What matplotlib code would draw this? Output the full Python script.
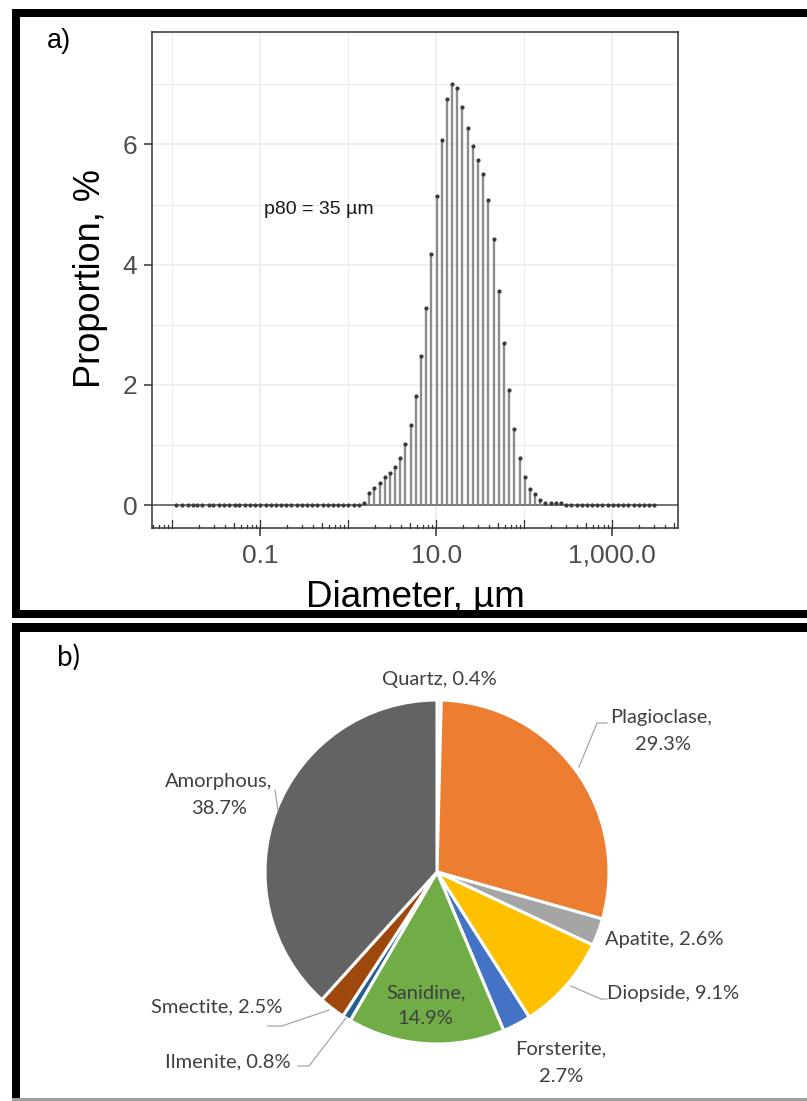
import matplotlib
matplotlib.use("Agg")
import matplotlib.pyplot as plt
from matplotlib.patches import Rectangle
from matplotlib.ticker import NullLocator
import matplotlib.transforms as mtransforms

# ---------------- data ----------------
# particle size classes (µm) of the laser diffraction analyser
diameter_um = [
    0.011, 0.013, 0.015, 0.017, 0.019, 0.022, 0.026, 0.029, 0.034, 0.039,
    0.044, 0.051, 0.058, 0.067, 0.076, 0.087, 0.100, 0.115, 0.131, 0.150,
    0.172, 0.197, 0.226, 0.259, 0.296, 0.339, 0.389, 0.445, 0.510, 0.584,
    0.669, 0.766, 0.877, 1.005, 1.151, 1.318, 1.510, 1.729, 1.981, 2.269,
    2.599, 2.976, 3.409, 3.905, 4.472, 5.122, 5.867, 6.720, 7.697, 8.816,
    10.097, 11.565, 13.246, 15.172, 17.377, 19.904, 22.797, 26.111, 29.907, 34.255,
    39.234, 44.938, 51.471, 58.953, 67.523, 77.339, 88.583, 101.46, 116.21, 133.10,
    152.45, 174.62, 200.00, 229.07, 262.37, 300.51, 344.20, 394.24, 451.55, 517.20,
    592.39, 678.50, 777.14, 890.12, 1019.5, 1167.7, 1337.5, 1531.9, 1754.6, 2009.6,
    2301.8, 2636.4, 3000.0,
]
proportion_pct = [
    0.00, 0.00, 0.00, 0.00, 0.00, 0.00, 0.00, 0.00, 0.00, 0.00,
    0.00, 0.00, 0.00, 0.00, 0.00, 0.00, 0.00, 0.00, 0.00, 0.00,
    0.00, 0.00, 0.00, 0.00, 0.00, 0.00, 0.00, 0.00, 0.00, 0.00,
    0.00, 0.00, 0.00, 0.00, 0.00, 0.00, 0.04, 0.20, 0.28, 0.37,
    0.46, 0.53, 0.64, 0.78, 1.01, 1.33, 1.82, 2.48, 3.28, 4.18,
    5.14, 6.07, 6.76, 7.01, 6.94, 6.63, 6.28, 5.97, 5.74, 5.50,
    5.07, 4.42, 3.57, 2.69, 1.91, 1.27, 0.79, 0.47, 0.27, 0.18,
    0.08, 0.04, 0.04, 0.04, 0.04, 0.00, 0.00, 0.00, 0.00, 0.00,
    0.00, 0.00, 0.00, 0.00, 0.00, 0.00, 0.00, 0.00, 0.00, 0.00,
    0.00, 0.00, 0.00,
]
x_breaks = [0.1, 10, 1000]
x_break_labels = ["0.1", "10.0", "1,000.0"]
y_breaks = [0, 2, 4, 6]
y_break_labels = ["0", "2", "4", "6"]
p80_label = "p80 = 35 µm"

minerals = ["Quartz", "Plagioclase", "Apatite", "Diopside", "Forsterite",
            "Sanidine", "Ilmenite", "Smectite", "Amorphous"]
mineral_pct = [0.4, 29.3, 2.6, 9.1, 2.7, 14.9, 0.8, 2.5, 38.7]
mineral_colors = ["#d6dbe4", "#ed7d31", "#a5a5a5", "#ffc000", "#4472c4",
                  "#70ad47", "#255e91", "#9e480e", "#636363"]

# ---------------- figure ----------------
W, H = 807, 1101
fig = plt.figure(figsize=(W / 100, H / 100), dpi=100)
plt.rcParams["font.family"] = ["Liberation Sans", "DejaVu Sans"]


def fx(px):
    return px / W


def fy(py):
    return 1 - py / H


# ---- panel a: size distribution ----
L, R, T, B = 152, 678, 32, 528
ax = fig.add_axes([fx(L), fy(B), fx(R) - fx(L), fy(T) - fy(B)])
ax.set_xscale("log")
ax.set_xlim(10 ** -2.231, 10 ** 3.749)
ax.set_ylim(-0.38, 7.87)

grid_c = "#ebebeb"
for v in x_breaks:
    ax.axvline(v, color=grid_c, lw=1.1, zorder=0)
for v in [0.01, 1, 100]:
    ax.axvline(v, color=grid_c, lw=0.7, zorder=0)
for v in y_breaks:
    ax.axhline(v, color=grid_c, lw=1.1, zorder=0)
for v in [1, 3, 5, 7]:
    ax.axhline(v, color=grid_c, lw=0.7, zorder=0)

ax.axhline(0, color="#555555", lw=1.1, zorder=1)
ax.vlines(diameter_um, 0, proportion_pct, color="#8c8c8c", lw=1.7, zorder=2)
ax.plot(diameter_um, proportion_pct, "o", ms=2.0, color="#3a3a3a", zorder=3)

# logarithmic tick marks along the bottom edge
trans = mtransforms.blended_transform_factory(ax.transData, ax.transAxes)
ph = B - T
for k in range(-3, 4):
    for m in range(1, 10):
        v = m * 10.0 ** k
        if not (10 ** -2.231 < v < 10 ** 3.749):
            continue
        hpx = 8 if m == 1 else (5.5 if m == 5 else 3.5)
        ax.plot([v, v], [0, hpx / ph], transform=trans, color="#333333",
                lw=0.9, clip_on=False, zorder=4)

ax.set_xticks(x_breaks)
ax.set_xticklabels(x_break_labels)
ax.xaxis.set_minor_locator(NullLocator())
ax.set_yticks(y_breaks)
ax.set_yticklabels(y_break_labels)
ax.tick_params(axis="both", length=5.5, width=1.1, color="#333333",
               labelcolor="#4d4d4d", labelsize=19)
ax.tick_params(axis="x", pad=6)
ax.tick_params(axis="y", pad=5)
for sp in ax.spines.values():
    sp.set_color("#333333")
    sp.set_linewidth(1.1)

ax.text(0.110, 4.92, p80_label, ha="left", va="center", fontsize=14,
        color="#1a1a1a")

fig.text(fx(91), fy(279), "Proportion, %", rotation=90, ha="center",
         va="center", fontsize=26, color="black")
fig.text(fx(415), fy(607), "Diameter, µm", ha="center", va="baseline",
         fontsize=26.5, color="black")
fig.text(fx(47), fy(41), "a)", ha="left", va="center", fontsize=19.5,
         color="black")

# ---- overlay in pixel coordinates: frames and pie ----
ov = fig.add_axes([0, 0, 1, 1])
ov.set_facecolor("none")


def P(x, y):
    return (x, H - y)


wedges, _ = ov.pie(mineral_pct, colors=mineral_colors, startangle=90,
                   counterclock=False, center=P(437, 872), radius=172,
                   wedgeprops=dict(edgecolor="white", linewidth=2.2))
ov.set_xlim(0, W)
ov.set_ylim(0, H)
ov.set_aspect("auto")
ov.axis("off")


def band(x0, y0, x1, y1, color="black"):
    ov.add_patch(Rectangle(P(x0, y1), x1 - x0, y1 - y0, facecolor=color,
                           edgecolor="none", zorder=10))


# panel a frame
band(12, 9, W + 5, 17)
band(12, 9, 20, 618)
band(12, 610, W + 5, 618)
# panel b frame
band(12, 623, W + 5, 632)
band(12, 623, 20, H + 5)
band(12, 1098, W + 5, H + 5, color="#a0a0a0")

lab_font = ["Lato", "DejaVu Sans"]
lab_c = "#404040"
fs = 14.5


def label(x, y, s, ha="center"):
    ov.text(*P(x, y), s, ha=ha, va="center", fontsize=fs, color=lab_c,
            family=lab_font, zorder=11)


label(439, 680, f"{minerals[0]}, {mineral_pct[0]}%")
label(661, 717, f"{minerals[1]},")
label(663, 744, f"{mineral_pct[1]}%")
label(605, 940, f"{minerals[2]}, {mineral_pct[2]}%", ha="left")
label(607, 994, f"{minerals[3]}, {mineral_pct[3]}%", ha="left")
label(561, 1049, f"{minerals[4]},")
label(561, 1076, f"{mineral_pct[4]}%")
label(426, 993, f"{minerals[5]},")
label(425, 1019, f"{mineral_pct[5]}%")
label(291, 1062, f"{minerals[6]}, {mineral_pct[6]}%", ha="right")
label(282, 1007, f"{minerals[7]}, {mineral_pct[7]}%", ha="right")
label(219, 782, f"{minerals[8]},")
label(219, 808, f"{mineral_pct[8]}%")

ov.text(*P(57, 657), "b)", ha="left", va="center", fontsize=20,
        color="black", family=lab_font, zorder=11)

leaders = [
    [(579, 767), (597, 723), (607, 723)],
    [(571, 986), (601, 999), (607, 999)],
    [(346, 1018), (309, 1066), (298, 1066)],
    [(329, 1010), (282, 1026), (268, 1026)],
    [(275, 790), (278, 811)],
]
for pts in leaders:
    xs = [p[0] for p in pts]
    ys = [H - p[1] for p in pts]
    ov.plot(xs, ys, color="#a6a6a6", lw=0.9, zorder=9)

fig.savefig("out.png", dpi=100)
